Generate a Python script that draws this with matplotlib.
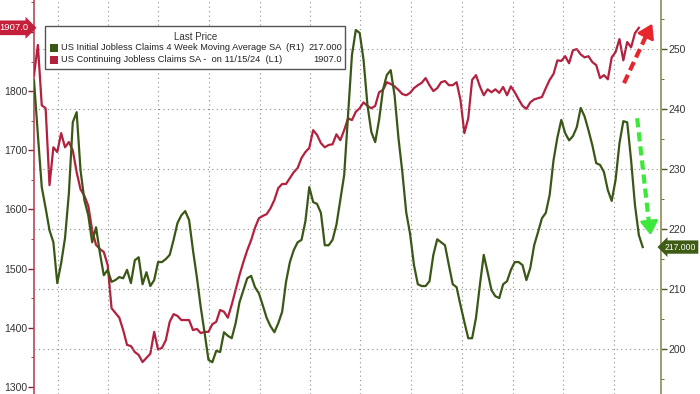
import matplotlib
matplotlib.use('Agg')
import matplotlib.pyplot as plt
import matplotlib.dates as mdates
import matplotlib.transforms as mtransforms
from matplotlib import font_manager
from matplotlib.patches import Rectangle
from matplotlib.ticker import MultipleLocator, FuncFormatter
import pandas as pd

names = {f.name for f in font_manager.fontManager.ttflist}
FONT = 'Liberation Sans Narrow' if 'Liberation Sans Narrow' in names else 'Liberation Sans'
plt.rcParams['font.family'] = [FONT, 'DejaVu Sans']

# weekly data, thousands
start = '2021-11-19'
continuing = [
    1827, 1878, 1776, 1771, 1641, 1705, 1697, 1729, 1705, 1714,
    1700, 1663, 1634, 1623, 1606, 1565, 1540, 1533, 1528, 1506,
    1433, 1425, 1417, 1396, 1371, 1369, 1359, 1354, 1342, 1349,
    1356, 1393, 1363, 1366, 1379, 1410, 1423, 1420, 1413, 1413,
    1413, 1396, 1398, 1391, 1393, 1393, 1406, 1410, 1430, 1427,
    1417, 1439, 1464, 1489, 1511, 1531, 1548, 1569, 1585, 1589,
    1592, 1602, 1616, 1636, 1643, 1643, 1653, 1663, 1670, 1687,
    1697, 1704, 1734, 1726, 1712, 1705, 1709, 1710, 1727, 1717,
    1734, 1754, 1751, 1765, 1771, 1781, 1775, 1771, 1775, 1798,
    1802, 1815, 1812, 1808, 1802, 1795, 1793, 1797, 1805, 1810,
    1814, 1822, 1810, 1800, 1805, 1815, 1817, 1810, 1810, 1815,
    1785, 1729, 1754, 1819, 1827, 1808, 1793, 1803, 1798, 1803,
    1797, 1807, 1793, 1808, 1798, 1786, 1775, 1770, 1781, 1786,
    1788, 1790, 1805, 1819, 1829, 1852, 1851, 1859, 1847, 1869,
    1871, 1862, 1857, 1859, 1849, 1844, 1822, 1827, 1820, 1857,
    1866, 1888, 1852, 1883, 1874, 1898, 1907.0,
]
initial_4wk = [
    244.8, 235.7, 227.0, 223.5, 219.8, 217.8, 211.0, 214.3, 218.5, 226.0,
    237.8, 239.5, 229.8, 224.8, 222.3, 217.8, 220.3, 216.0, 212.3, 213.2,
    211.2, 211.5, 212.0, 211.8, 213.2, 211.0, 214.8, 215.3, 210.8, 212.8,
    210.5, 211.5, 214.5, 214.5, 215.0, 215.7, 218.2, 221.0, 222.3, 223.0,
    221.5, 216.5, 212.0, 207.0, 202.7, 198.2, 197.8, 199.7, 199.5, 202.8,
    202.2, 201.8, 204.3, 207.8, 209.8, 211.8, 212.2, 210.3, 209.3, 207.3,
    205.2, 203.8, 202.8, 204.3, 206.2, 211.2, 214.5, 216.5, 217.8, 218.2,
    221.3, 227.0, 224.5, 224.2, 222.7, 217.3, 217.3, 218.2, 220.7, 224.8,
    229.0, 239.0, 249.0, 253.2, 252.7, 248.2, 240.7, 236.2, 234.5, 238.2,
    243.2, 245.7, 246.5, 242.3, 235.2, 229.5, 222.8, 219.2, 214.0, 210.8,
    210.5, 210.5, 211.3, 215.7, 218.3, 217.8, 217.3, 214.0, 210.8, 210.3,
    207.3, 204.5, 201.8, 201.8, 205.2, 210.7, 215.7, 212.8, 209.8, 208.8,
    208.5, 210.8, 211.3, 213.2, 214.5, 214.5, 214.0, 211.5, 213.5, 217.3,
    219.5, 221.8, 222.7, 225.7, 231.5, 235.3, 238.2, 236.0, 234.8, 235.5,
    237.0, 240.2, 238.8, 236.5, 234.0, 231.0, 230.7, 229.5, 226.5, 224.7,
    228.2, 234.3, 238.0, 237.8, 231.5, 224.0, 219.0, 217.0,
]
label_initial = 'US Initial Jobless Claims 4 Week Moving Average SA  (R1)'
label_cont = 'US Continuing Jobless Claims SA -  on 11/15/24  (L1)'

RED = '#b3213f'
GREEN = '#3b5716'

cont_dates = pd.date_range(start, periods=len(continuing), freq='7D')
init_dates = pd.date_range(start, periods=len(initial_4wk), freq='7D')

fig = plt.figure(figsize=(7, 3.94), dpi=100)
ax = fig.add_axes([34/700, 0, 627/700, 1])
ax2 = ax.twinx()

ax.plot(cont_dates, continuing, color=RED, lw=1.6, zorder=3)
ax2.plot(init_dates, initial_4wk, color=GREEN, lw=1.6, zorder=3)

ax.set_xlim(pd.Timestamp(start), pd.Timestamp(start) + pd.Timedelta(days=1132))
ax.set_ylim(1288, 1954)
ax2.set_ylim(192.5, 258.2)

ax.xaxis.set_major_locator(mdates.MonthLocator(bymonth=[1, 4, 7, 10]))
ax.tick_params(axis='x', length=0, labelbottom=False)
ax.grid(axis='x', linestyle=(0, (1, 3)), color='#8c8c8c', lw=0.8)

# the 1900 label is hidden behind the last-value tag in the original
ax.yaxis.set_major_locator(MultipleLocator(100))
ax.yaxis.set_major_formatter(FuncFormatter(lambda v, p: '' if v > 1850 else f'{v:.0f}'))
ax.yaxis.set_minor_locator(MultipleLocator(50))
ax.tick_params(axis='y', which='major', direction='out', length=4, width=1,
               color='#8a1f35', labelsize=7.5, labelcolor='#333333', pad=1)
ax.tick_params(axis='y', which='minor', direction='out', length=2, color='#8a1f35')

ax2.yaxis.set_major_locator(MultipleLocator(10))
ax2.yaxis.set_minor_locator(MultipleLocator(5))
ax2.tick_params(axis='y', which='major', direction='out', length=4, width=1,
                color='#4d5520', labelsize=7.5, labelcolor='#333333', pad=1)
ax2.tick_params(axis='y', which='minor', direction='out', length=2, color='#4d5520')
ax2.grid(axis='y', linestyle=(0, (1, 3)), color='#8c8c8c', lw=0.8)

for a in (ax, ax2):
    for s in ('top', 'bottom'):
        a.spines[s].set_visible(False)
ax.spines['right'].set_visible(False)
ax2.spines['left'].set_visible(False)
ax.spines['left'].set_color('#b8485e')
ax.spines['left'].set_linewidth(1.2)
ax2.spines['right'].set_color('#8c8c5a')
ax2.spines['right'].set_linewidth(1.2)

# last value tags
trans_l = mtransforms.blended_transform_factory(ax.transAxes, ax.transData)
ax.text(-0.009, continuing[-1], f'{continuing[-1]:.1f}', transform=trans_l,
        ha='right', va='center', color='white', fontsize=6.8, zorder=10,
        bbox=dict(boxstyle='rarrow,pad=0.3', fc='#c4203c', ec='none'))
trans_r = mtransforms.blended_transform_factory(ax2.transAxes, ax2.transData)
ax2.text(1.006, initial_4wk[-1], f'{initial_4wk[-1]:.3f}', transform=trans_r,
         ha='left', va='center', color='white', fontsize=6.2, zorder=10,
         bbox=dict(boxstyle='larrow,pad=0.25', fc='#3f5c14', ec='none'))

# legend box
fig.add_artist(Rectangle((45/700, 1 - 69/394), 300/700, 43/394, transform=fig.transFigure,
                         fc='white', ec='#555555', lw=1, zorder=20))
fig.text(196/700, 1 - 37/394, 'Last Price', ha='center', va='center',
         fontsize=7, color='#333333', zorder=21)
for yy, col, lab, val in [(48, GREEN, label_initial, f'{initial_4wk[-1]:.3f}'),
                          (60, RED, label_cont, f'{continuing[-1]:.1f}')]:
    fig.add_artist(Rectangle((50/700, 1 - (yy + 4)/394), 8/700, 8/394,
                             transform=fig.transFigure, fc=col, ec='none', zorder=21))
    fig.text(61/700, 1 - yy/394, lab, ha='left', va='center', fontsize=6.7,
             color='#222222', zorder=21)
    fig.text(342/700, 1 - yy/394, val, ha='right', va='center', fontsize=6.7,
             color='#222222', zorder=21)

# dashed trend arrows
ax2.plot([0.941, 0.978], [0.789, 0.915], transform=ax2.transAxes, color='#e8242c',
         lw=3, dashes=(2.2, 1.2), clip_on=False, zorder=6)
ax2.annotate('', xy=(0.988, 0.946), xytext=(0.976, 0.908), xycoords='axes fraction',
             arrowprops=dict(arrowstyle='-|>,head_length=0.7,head_width=0.45',
                             color='#e8242c', lw=2, mutation_scale=12), zorder=6)
ax2.plot([0.962, 0.981], [0.700, 0.432], transform=ax2.transAxes, color='#3ee83a',
         lw=3, dashes=(2.2, 1.2), clip_on=False, zorder=6)
ax2.annotate('', xy=(0.984, 0.396), xytext=(0.981, 0.440), xycoords='axes fraction',
             arrowprops=dict(arrowstyle='-|>,head_length=0.7,head_width=0.45',
                             color='#3ee83a', lw=2, mutation_scale=12), zorder=6)

fig.savefig('out.png', dpi=100)
